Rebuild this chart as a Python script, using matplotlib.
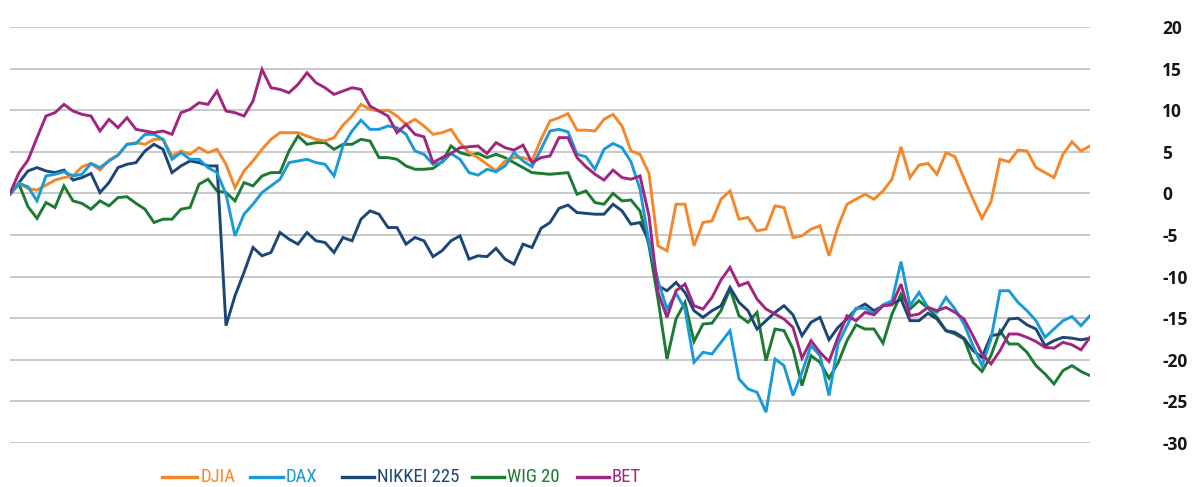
import matplotlib
matplotlib.use("Agg")
import matplotlib.pyplot as plt
from matplotlib.lines import Line2D

plt.rcParams["axes.unicode_minus"] = False

# ---- data (percent change) ----
djia = [0, 1.2, 0.6, 0.4, 1.0, 1.6, 1.9, 2.1, 3.2, 3.6, 2.8, 4.0, 4.6, 5.9, 6.1,
        5.9, 6.5, 6.5, 4.5, 5.1, 4.7, 5.5, 4.9, 5.3, 3.5, 0.7, 2.7, 3.9, 5.3, 6.5,
        7.3, 7.3, 7.3, 6.9, 6.5, 6.3, 6.7, 8.2, 9.3, 10.7, 10.1, 9.9, 10.0, 9.3, 8.3,
        8.9, 8.1, 7.1, 7.3, 7.7, 6.1, 4.9, 4.3, 3.5, 2.7, 3.9, 4.3, 4.3, 3.9, 6.5,
        8.7, 9.1, 9.6, 7.6, 7.6, 7.5, 8.9, 9.5, 8.1, 5.1, 4.7, 2.4, -6.3, -6.9, -1.3,
        -1.3, -6.3, -3.5, -3.3, -0.7, 0.3, -3.1, -2.9, -4.5, -4.3, -1.5, -1.7, -5.3, -5.1, -4.3,
        -3.9, -7.5, -4.0, -1.3, -0.7, -0.1, -0.7, 0.3, 1.7, 5.6, 1.9, 3.4, 3.6, 2.3, 4.9,
        4.4, 1.8, -0.7, -3.0, -1.0, 4.1, 3.8, 5.2, 5.1, 3.1, 2.5, 1.9, 4.7, 6.2, 5.1, 5.7]

dax = [-0.1, 1.2, 0.8, -0.9, 2.1, 2.3, 2.6, 2.1, 2.3, 3.6, 3.1, 3.9, 4.6, 5.9, 6.0,
       7.1, 7.1, 6.5, 4.1, 4.9, 4.1, 4.1, 3.1, 2.5, -0.1, -5.1, -2.5, -1.3, 0.1, 0.9,
       1.7, 3.7, 3.9, 4.1, 3.7, 3.5, 2.1, 5.7, 7.5, 8.8, 7.7, 7.7, 8.1, 7.9, 7.1,
       5.1, 4.7, 3.5, 3.7, 4.8, 4.1, 2.5, 2.2, 2.9, 2.6, 3.3, 4.9, 3.9, 3.2, 5.3,
       7.5, 7.7, 7.4, 4.7, 4.4, 2.9, 5.3, 6.0, 5.5, 3.8, 0.5, -5.9, -10.5, -13.9, -12.0,
       -13.9, -20.3, -19.1, -19.3, -17.9, -16.5, -22.3, -23.5, -23.9, -26.3, -19.9, -20.7, -24.3, -21.5, -18.3,
       -19.5, -24.3, -18.1, -15.9, -13.8, -13.8, -14.5, -13.4, -12.9, -8.2, -13.5, -11.9, -13.7, -14.3, -12.5,
       -13.9, -15.7, -18.3, -20.7, -17.5, -11.7, -11.7, -13.1, -14.1, -15.3, -17.3, -16.3, -15.3, -14.8, -15.9, -14.7]

nikkei = [-0.1, 1.3, 2.7, 3.1, 2.7, 2.5, 2.8, 1.6, 1.9, 2.4, 0.1, 1.3, 3.1, 3.5, 3.7,
          5.1, 5.9, 5.3, 2.5, 3.3, 3.9, 3.7, 3.3, 3.3, -15.9, -12.3, -9.5, -6.5, -7.5, -7.1,
          -4.7, -5.5, -6.1, -4.7, -5.7, -5.9, -7.1, -5.3, -5.7, -3.1, -2.1, -2.5, -4.1, -4.1, -6.1,
          -5.3, -5.7, -7.6, -6.9, -5.7, -5.1, -7.9, -7.5, -7.6, -6.6, -7.9, -8.5, -6.1, -6.5, -4.2,
          -3.5, -1.8, -1.4, -2.3, -2.4, -2.5, -2.5, -1.3, -2.1, -3.7, -3.5, -5.7, -11.1, -11.7, -10.7,
          -11.9, -14.1, -14.9, -14.1, -13.5, -11.3, -13.1, -14.1, -16.3, -15.3, -14.3, -13.5, -14.6, -17.1, -15.5,
          -14.9, -17.6, -16.1, -15.1, -13.9, -13.3, -14.1, -13.5, -13.3, -12.7, -15.3, -15.3, -14.4, -15.1, -16.5,
          -16.7, -17.4, -18.9, -19.7, -17.1, -16.9, -15.1, -15.0, -15.8, -16.3, -18.3, -17.7, -17.3, -17.4, -17.6, -17.4]

wig20 = [0, 1.1, -1.6, -3.0, -1.1, -1.7, 0.9, -0.9, -1.2, -1.9, -0.9, -1.5, -0.5, -0.4, -1.2,
         -1.9, -3.5, -3.1, -3.1, -1.9, -1.7, 1.1, 1.7, 0.3, 0.1, -0.9, 1.3, 0.9, 2.1, 2.5,
         2.5, 5.1, 6.9, 5.9, 6.1, 6.1, 5.3, 5.9, 5.9, 6.5, 6.3, 4.3, 4.3, 4.1, 3.3,
         2.9, 2.9, 3.0, 3.8, 5.7, 4.9, 4.6, 4.8, 4.3, 4.7, 4.3, 3.7, 3.1, 2.5, 2.4,
         2.3, 2.4, 2.5, -0.1, 0.3, -1.1, -1.3, 0.0, -0.9, -0.8, -2.1, -6.3, -12.7, -19.9, -15.1,
         -13.1, -17.8, -15.7, -15.6, -14.1, -11.5, -14.7, -15.5, -14.3, -20.1, -16.3, -16.5, -18.7, -23.1, -19.5,
         -20.3, -22.2, -20.4, -17.7, -15.8, -16.3, -16.3, -18.0, -14.5, -12.1, -13.9, -12.9, -13.8, -14.9, -16.5,
         -16.9, -17.5, -20.3, -21.4, -19.5, -16.5, -18.1, -18.1, -19.1, -20.7, -21.7, -22.9, -21.3, -20.7, -21.4, -21.9]

bet = [0, 2.5, 4.0, 6.7, 9.3, 9.7, 10.7, 9.9, 9.5, 9.3, 7.5, 8.9, 7.9, 9.1, 7.7,
       7.5, 7.3, 7.5, 7.1, 9.7, 10.1, 10.9, 10.7, 12.3, 9.9, 9.7, 9.3, 11.1, 14.9, 12.7,
       12.5, 12.1, 13.1, 14.5, 13.3, 12.7, 11.9, 12.3, 12.7, 12.5, 10.5, 9.9, 9.3, 7.3, 8.3,
       7.1, 6.8, 3.7, 4.3, 4.8, 5.5, 5.6, 5.7, 4.8, 6.1, 5.5, 5.2, 5.8, 3.7, 4.3,
       4.5, 6.7, 6.7, 4.3, 3.2, 2.3, 1.6, 2.8, 1.9, 1.7, 2.1, -2.7, -11.9, -14.9, -11.7,
       -10.9, -13.5, -13.9, -12.5, -10.4, -8.9, -11.1, -10.7, -12.7, -13.9, -14.5, -15.1, -16.1, -19.8, -17.7,
       -19.1, -20.2, -17.3, -14.7, -15.3, -14.3, -14.6, -13.5, -13.4, -10.9, -14.7, -14.5, -13.7, -14.1, -13.7,
       -14.3, -15.1, -17.1, -19.3, -20.5, -18.9, -16.9, -16.9, -17.3, -17.8, -18.5, -18.6, -17.9, -18.2, -18.8, -17.3]

series_names = ["DJIA", "DAX", "NIKKEI 225", "WIG 20", "BET"]
series_values = [djia, dax, nikkei, wig20, bet]
y_ticks = [20, 15, 10, 5, 0, -5, -10, -15, -20, -25, -30]

colors = {"DJIA": "#F5872B", "DAX": "#1A9AD7", "NIKKEI 225": "#1C4676",
          "WIG 20": "#1D7A33", "BET": "#A02680"}
draw_order = ["WIG 20", "NIKKEI 225", "DJIA", "DAX", "BET"]

W, H = 1195, 487
fig = plt.figure(figsize=(W / 100, H / 100), dpi=100)
left_px, right_px, top_px, bot_px = 10, 1090, 27, 443
ax = fig.add_axes([left_px / W, (H - bot_px) / H, (right_px - left_px) / W, (bot_px - top_px) / H])

for name in draw_order:
    vals = series_values[series_names.index(name)]
    ax.plot(range(len(vals)), vals, color=colors[name], lw=2.1, solid_joinstyle="miter",
            zorder=3)

ax.set_xlim(0, len(djia) - 1)
ax.set_ylim(-30, 20)
ax.set_yticks(y_ticks)
ax.set_xticks([])
ax.yaxis.tick_right()
ax.tick_params(axis="y", length=0, pad=52, labelsize=12.5, labelcolor="#161616")
for lab in ax.get_yticklabels():
    lab.set_fontfamily(["Open Sans", "DejaVu Sans"])
    lab.set_fontweight("bold")
    lab.set_horizontalalignment("left")
ax.grid(axis="y", color="#c9c9c9", lw=1.4, zorder=0)
for s in ax.spines.values():
    s.set_visible(False)
ax.set_facecolor("white")

# legend drawn manually
legend_y = (H - 477) / H
items = [("DJIA", 162, 197, 201), ("DAX", 250, 283, 286), ("NIKKEI 225", 342, 374, 377),
         ("WIG 20", 472, 504, 507), ("BET", 577, 609, 612)]
for name, x0, x1, xt in items:
    fig.add_artist(Line2D([x0 / W, x1 / W], [legend_y, legend_y], color=colors[name], lw=2.4,
                          transform=fig.transFigure))
    fig.text(xt / W, legend_y, name, color=colors[name], fontsize=13.5, va="center", ha="left",
             family=["Liberation Sans Narrow", "Roboto Condensed", "Open Sans", "DejaVu Sans"])

fig.savefig("out.png", dpi=100, facecolor="white")
